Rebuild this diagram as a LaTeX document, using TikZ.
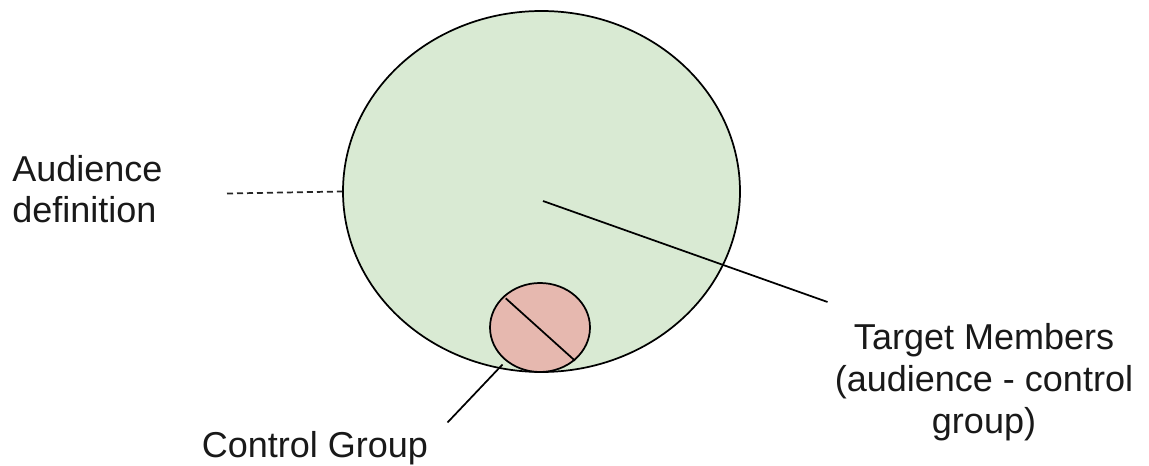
\documentclass[tikz,border=0pt]{standalone}
\usepackage{fontspec}
\setmainfont{Liberation Sans}
\usetikzlibrary{shapes.geometric}
\definecolor{audgreen}{HTML}{D9EAD3}
\definecolor{ctrlred}{HTML}{E6B8AF}
\begin{document}
\begin{tikzpicture}[x=0.75pt,y=-0.75pt,
  blob/.style={ellipse,draw=black,line width=1.3pt,inner sep=0pt},
  lbl/.style={font=\fontsize{27pt}{31.2pt}\selectfont,inner sep=0pt,text=black!90},
  conn/.style={draw=black,line width=1.3pt},
  dashconn/.style={draw=black!85,line width=1.3pt,dash pattern=on 4.5pt off 3pt}]
\useasboundingbox (0,0) rectangle (1149,466);
% shapes
\node[blob,fill=audgreen,minimum width=297.75pt,minimum height=270.75pt] (aud) at (541.5,191.5) {};
\node[blob,fill=ctrlred,minimum width=75pt,minimum height=66.75pt] (ctrl) at (540,327.5) {};
% labels (base anchor = baseline of the last line)
\node[lbl,anchor=base west,align=left] (audlbl) at (12,223) {Audience\\definition};
\node[lbl,anchor=base,align=center] (tgtlbl) at (984,433) {Target Members\\(audience - control\\group)};
\node[lbl,anchor=base] (ctrllbl) at (315,457) {Control Group};
% connector ends
\coordinate (dashstart) at (227,193.5);
\coordinate (tgtin) at (543,201);
\coordinate (tgtout) at (827.5,302);
\coordinate (ctrlin) at (502.5,364.5);
\coordinate (ctrlout) at (447.5,422.5);
\coordinate (diagA) at (505.7,298.3);
\coordinate (diagB) at (575,360.7);
% connectors
\draw[dashconn] (dashstart) -- (aud.west);
\draw[conn] (tgtin) -- (tgtout);
\draw[conn] (ctrlin) -- (ctrlout);
\draw[conn] (diagA) -- (diagB);
\end{tikzpicture}
\end{document}
